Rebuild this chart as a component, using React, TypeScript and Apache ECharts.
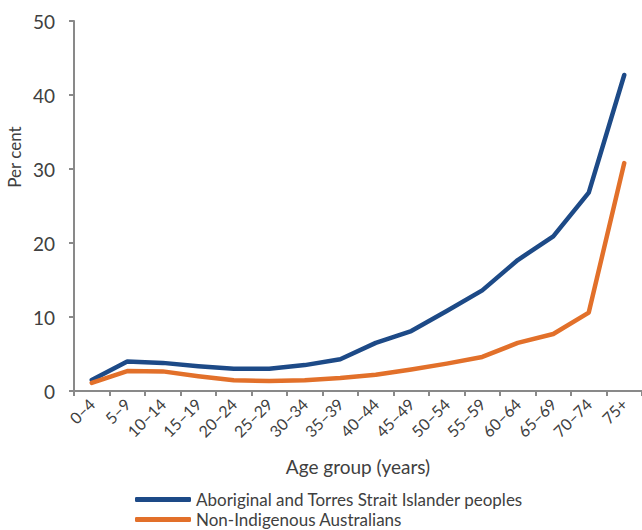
import React, { useEffect, useRef } from "react";
import * as echarts from "echarts";

const categories = ["0–4", "5–9", "10–14", "15–19", "20–24", "25–29", "30–34", "35–39", "40–44", "45–49", "50–54", "55–59", "60–64", "65–69", "70–74", "75+"];
const indigenous = [1.5, 4.0, 3.8, 3.35, 3.0, 3.0, 3.5, 4.3, 6.5, 8.1, 10.8, 13.6, 17.7, 20.9, 26.8, 42.7];
const nonIndigenous = [1.1, 2.7, 2.65, 2.0, 1.45, 1.35, 1.45, 1.75, 2.2, 2.9, 3.7, 4.6, 6.5, 7.7, 10.6, 30.8];
const seriesNames = ["Aboriginal and Torres Strait Islander peoples", "Non-Indigenous Australians"];
const yTicks = { min: 0, max: 50, interval: 10 };

const FONT = "Lato, 'Open Sans', sans-serif";
const TEXT = "#404040";
const AXIS = "#898989";

export default function App() {
  const ref = useRef<HTMLDivElement>(null);
  useEffect(() => {
    if (!ref.current) return;
    const chart = echarts.init(ref.current, undefined, { renderer: "svg" });
    chart.setOption({
      animation: false,
      textStyle: { fontFamily: FONT },
      grid: { left: 74, top: 21, width: 570, height: 370, containLabel: false },
      legend: {
        orient: "vertical",
        left: 135,
        top: 491,
        width: 500,
        height: 60,
        padding: 0,
        itemWidth: 56,
        itemHeight: 5,
        itemGap: 3,
        icon: "roundRect",
        textStyle: { fontFamily: FONT, fontSize: 17, color: TEXT },
        data: seriesNames,
      },
      graphic: [
        {
          type: "text",
          x: 14,
          y: 157,
          rotation: Math.PI / 2,
          style: { text: "Per cent", fontFamily: FONT, fontSize: 17, fill: TEXT, align: "center", verticalAlign: "middle" },
        },
      ],
      xAxis: {
        type: "category",
        data: categories,
        boundaryGap: true,
        name: "Age group (years)",
        nameLocation: "middle",
        nameGap: 66,
        nameTextStyle: { fontFamily: FONT, fontSize: 19, color: TEXT },
        axisLine: { lineStyle: { color: AXIS, width: 2 } },
        axisTick: { show: true, length: 5, lineStyle: { color: AXIS, width: 2 }, alignWithLabel: false },
        axisLabel: { rotate: 45, fontFamily: FONT, fontSize: 16, color: TEXT, margin: 10, interval: 0 },
      },
      yAxis: {
        type: "value",
        min: yTicks.min,
        max: yTicks.max,
        interval: yTicks.interval,
        axisLine: { show: true, lineStyle: { color: AXIS, width: 2 } },
        axisTick: { show: true, length: 5, lineStyle: { color: AXIS, width: 2 } },
        splitLine: { show: false },
        axisLabel: { fontFamily: FONT, fontSize: 19, color: TEXT, margin: 19 },
      },
      series: [
        {
          name: seriesNames[0],
          type: "line",
          data: indigenous,
          symbol: "none",
          lineStyle: { color: "#1d4a87", width: 4.5, cap: "round", join: "round" },
          itemStyle: { color: "#1d4a87" },
        },
        {
          name: seriesNames[1],
          type: "line",
          data: nonIndigenous,
          symbol: "none",
          lineStyle: { color: "#e2702a", width: 4.5, cap: "round", join: "round" },
          itemStyle: { color: "#e2702a" },
        },
      ],
    });
    return () => chart.dispose();
  }, []);
  return <div ref={ref} style={{ width: 642, height: 530, position: "absolute", left: 0, top: 0 }} />;
}
